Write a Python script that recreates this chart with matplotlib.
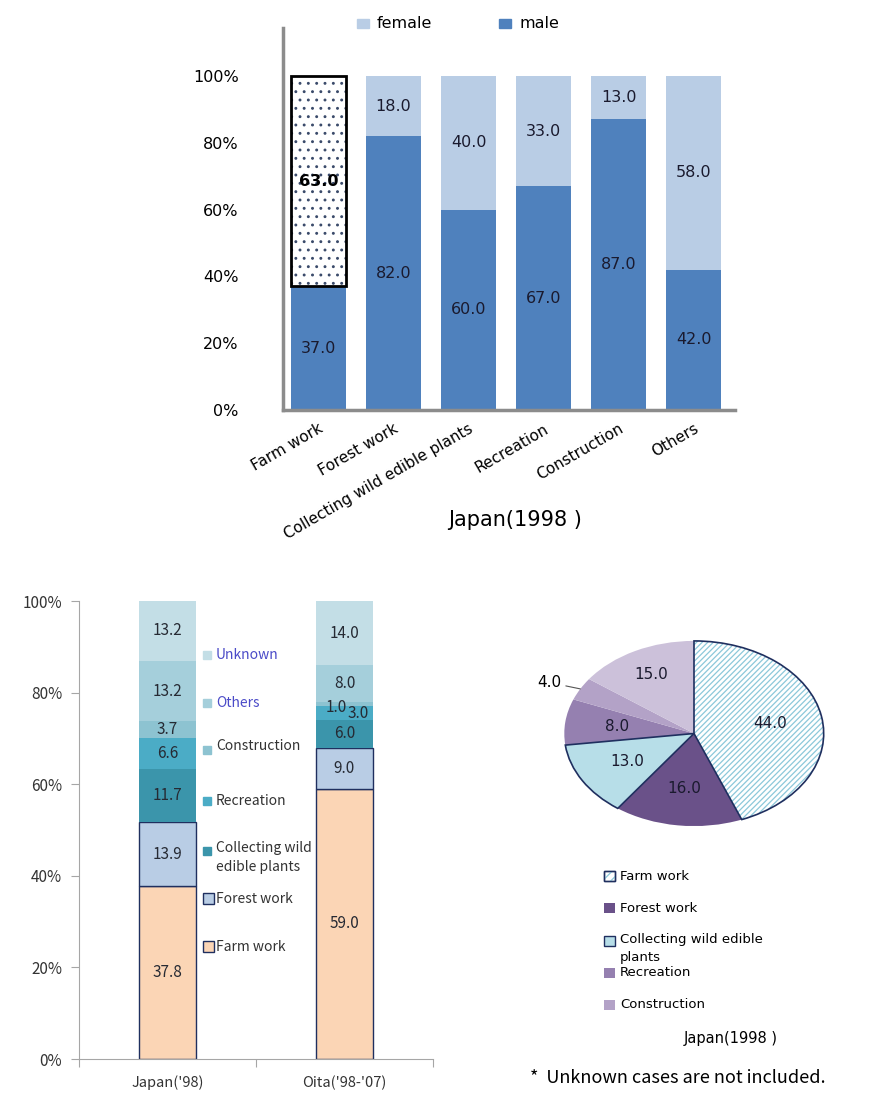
import numpy as np
import matplotlib
matplotlib.use("Agg")
import matplotlib.pyplot as plt
from matplotlib.patches import Rectangle, Wedge

# =========================
# data
# =========================

# top: gender share by activity, Japan 1998
activities = ["Farm work", "Forest work", "Collecting wild edible plants",
              "Recreation", "Construction", "Others"]
male = [37.0, 82.0, 60.0, 67.0, 87.0, 42.0]
female = [63.0, 18.0, 40.0, 33.0, 13.0, 58.0]

# bottom left: activity share, Japan vs Oita
regions = ["Japan('98)", "Oita('98-'07)"]
stack_cats = ["Farm work", "Forest work", "Collecting wild\nedible plants",
              "Recreation", "Construction", "Others", "Unknown"]
japan98 = [37.8, 13.9, 11.7, 6.6, 3.7, 13.2, 13.2]
oita = [59.0, 9.0, 6.0, 3.0, 1.0, 8.0, 14.0]

# bottom right: pie, Japan 1998
pie_cats = ["Farm work", "Forest work", "Collecting wild edible\nplants",
            "Recreation", "Construction", "Others"]
pie_vals = [44.0, 16.0, 13.0, 8.0, 4.0, 15.0]

# =========================
# style
# =========================
W, H = 888, 1116
MALE = "#4F81BD"
FEMALE = "#B9CDE5"
NAVY = "#1F2F5F"
STACK_COLORS = ["#FBD5B5", "#B9CDE5", "#3B95AB", "#4BACC6",
                "#8DC3D1", "#A5CFDB", "#C3DEE6"]
PIE_COLORS = ["white", "#6A5189", "#B7DEE8", "#9580B0", "#B3A2C7", "#CCC1DA"]
PIE_HATCH = "#8CC8DA"
GULIM = "DejaVu Sans"
MALGUN = ["Noto Sans CJK KR", "DejaVu Sans"]

plt.rcParams["hatch.linewidth"] = 0.9


def box(x0, y0, x1, y1):
    # pixel box -> figure fraction rect
    return [x0 / W, 1 - y1 / H, (x1 - x0) / W, (y1 - y0) / H]


fig = plt.figure(figsize=(W / 100, H / 100), dpi=100)

# =========================
# 1. top stacked 100% bar
# =========================
ax1 = fig.add_axes(box(283, 28, 735, 410))
x = np.arange(len(activities))
bw = 0.73
ax1.bar(x, male, bw, color=MALE, zorder=2)
fbars = ax1.bar(x, female, bw, bottom=male, color=FEMALE, zorder=2)
# farm work female: dotted fill with a heavy black frame
fbars[0].set_facecolor("white")
fbars[0].set_edgecolor("#3A4A6A")
fbars[0].set_linewidth(0)
fbars[0].set_hatch("..")
ax1.bar(x[:1], female[:1], bw, bottom=male[:1], fill=False, edgecolor="black",
        linewidth=2, zorder=3)

for i in range(len(activities)):
    ax1.text(i, male[i] / 2, f"{male[i]:.1f}", ha="center", va="center",
             fontsize=11.5, family=GULIM, color="#1A1A2E", zorder=4)
    ax1.text(i, male[i] + female[i] / 2, f"{female[i]:.1f}", ha="center",
             va="center", fontsize=11.5, family=GULIM,
             color="black" if i == 0 else "#1A1A2E",
             fontweight="bold" if i == 0 else "normal", zorder=4)

ax1.set_xlim(-0.473, 5.55)
ax1.set_ylim(0, 114.4)
ax1.set_yticks(np.arange(0, 101, 20))
ax1.set_yticklabels([f"{v}%" for v in range(0, 101, 20)], family=GULIM, fontsize=11.5)
ax1.set_xticks(x)
ax1.set_xticklabels(activities, rotation=30, ha="right", rotation_mode="anchor",
                    family=GULIM, fontsize=11)
ax1.tick_params(axis="y", length=0, pad=32)
ax1.tick_params(axis="x", length=0, pad=8)
for s in ["top", "right"]:
    ax1.spines[s].set_visible(False)
for s in ["left", "bottom"]:
    ax1.spines[s].set_color("#8C8C8C")
    ax1.spines[s].set_linewidth(2.5)

# =========================
# 2. bottom-left stacked bar
# =========================
ax2 = fig.add_axes(box(79, 601, 433, 1059))
pos = np.array([0.5, 1.5])
sw = 0.32
bottom = np.zeros(2)
# label nudges for the thin Oita bands (layout only)
nudge = {(1, 3): (0.076, 0.0), (1, 4): (-0.045, -0.8)}
for k, cat in enumerate(stack_cats):
    vals = np.array([japan98[k], oita[k]])
    edge = NAVY if k < 2 else "none"
    ax2.bar(pos, vals, sw, bottom=bottom, color=STACK_COLORS[k],
            edgecolor=edge, linewidth=1, zorder=2)
    for j in range(2):
        dx, dy = nudge.get((j, k), (0, 0))
        ax2.text(pos[j] + dx, bottom[j] + vals[j] / 2 + dy, f"{vals[j]:.1f}",
                 ha="center", va="center", fontsize=11, family=MALGUN, color="#262A33")
    bottom += vals

ax2.set_xlim(0, 2)
ax2.set_ylim(0, 100)
ax2.set_yticks(np.arange(0, 101, 20))
ax2.set_yticklabels([f"{v}%" for v in range(0, 101, 20)], family=MALGUN, fontsize=11,
                    color="#333333")
ax2.set_xticks([0, 1, 2])
ax2.set_xticklabels([])
ax2.set_xticks(pos, minor=True)
ax2.set_xticklabels(regions, minor=True, family=MALGUN, fontsize=10.5, color="#333333")
ax2.tick_params(axis="x", which="minor", length=0, pad=12)
ax2.tick_params(axis="both", which="major", length=6, color="#A6A6A6", direction="out")
ax2.tick_params(axis="y", pad=6)
for s in ["top", "right"]:
    ax2.spines[s].set_visible(False)
for s in ["left", "bottom"]:
    ax2.spines[s].set_color("#A6A6A6")

# =========================
# 3. pie (elliptical)
# =========================
ax3 = fig.add_axes(box(563, 640, 825, 827))
wedges, _ = ax3.pie(pie_vals, colors=PIE_COLORS, startangle=90, counterclock=False,
                    radius=1, wedgeprops=dict(linewidth=0, edgecolor="none"))
# farm work wedge: light blue diagonal hatch, navy outline on top
wedges[0].set_edgecolor(PIE_HATCH)
wedges[0].set_hatch("//////")
for i in (0, 2):
    w = wedges[i]
    ax3.add_patch(Wedge(w.center, w.r, w.theta1, w.theta2, fill=False,
                        edgecolor=NAVY, linewidth=1.2, zorder=3))
ax3.set_aspect("auto")
ax3.set_xlim(-1.01, 1.01)
ax3.set_ylim(-1.01, 1.01)
ax3.axis("off")

for i, w in enumerate(wedges):
    mid = np.deg2rad((w.theta1 + w.theta2) / 2)
    lab = f"{pie_vals[i]:.1f}"
    if i == 4:
        ax3.annotate(lab, xy=(np.cos(mid), np.sin(mid)), xytext=(-1.02, 0.55),
                     ha="right", va="center", fontsize=11, family=GULIM,
                     arrowprops=dict(arrowstyle="-", color="#555555", lw=0.8,
                                     shrinkA=1, shrinkB=0),
                     annotation_clip=False)
    else:
        r = 0.72 if i == 5 else 0.6
        ax3.text(r * np.cos(mid), r * np.sin(mid), lab, ha="center", va="center",
                 fontsize=11, family=GULIM, color="#1A1A2E", zorder=5)

# =========================
# overlay: legends and notes (pixel coords)
# =========================
ov = fig.add_axes([0, 0, 1, 1])
ov.set_xlim(0, W)
ov.set_ylim(H, 0)
ov.axis("off")

# top legend
for lx, col, lab in [(357, FEMALE, "female"), (499, MALE, "male")]:
    ov.add_patch(Rectangle((lx, 19), 12, 9, color=col))
    ov.text(lx + 20, 23.5, lab, va="center", ha="left", fontsize=11.5, family=GULIM)

ov.text(515, 520, "Japan(1998 )", ha="center", va="center", fontsize=15, family=GULIM)

# bottom-left legend
legend_y = [947, 899, 851, 801, 746, 703, 655]
legend_tc = ["#333333"] * 5 + ["#4B4BC8", "#4B4BC8"]
for k, cat in enumerate(stack_cats):
    yy = legend_y[k]
    if k < 2:
        ov.add_patch(Rectangle((203, yy - 6), 11, 11, facecolor=STACK_COLORS[k],
                               edgecolor=NAVY, lw=1))
    else:
        dy = 4 if k == 4 else 0
        ov.add_patch(Rectangle((203, yy - 4 + dy), 8, 8, color=STACK_COLORS[k]))
    if k == 2:
        ov.text(216, yy - 10, cat, va="top", ha="left", fontsize=10, family=MALGUN,
                color=legend_tc[k], linespacing=1.5)
    else:
        ov.text(216, yy, cat, va="center", ha="left", fontsize=10, family=MALGUN,
                color=legend_tc[k])

# pie legend
pie_leg_y = [876, 908, 941, 973, 1005]
for i in range(5):
    yy = pie_leg_y[i]
    r = Rectangle((604, yy - 5), 11, 10, facecolor=PIE_COLORS[i],
                  edgecolor=NAVY if i in (0, 2) else "none", lw=1)
    ov.add_patch(r)
    if i == 0:
        ov.add_patch(Rectangle((604, yy - 5), 11, 10, fill=False, hatch="////",
                               edgecolor=PIE_HATCH, lw=0))
        ov.add_patch(Rectangle((604, yy - 5), 11, 10, fill=False,
                               edgecolor=NAVY, lw=1))
    if i == 2:
        ov.text(620, yy - 8, pie_cats[i], va="top", ha="left", fontsize=9.5,
                family=GULIM, linespacing=1.55)
    else:
        ov.text(620, yy, pie_cats[i], va="center", ha="left", fontsize=9.5,
                family=GULIM)

ov.text(731, 1039, "Japan(1998 )", ha="center", va="center", fontsize=10.5, family=GULIM)
ov.text(530, 1078, "*  Unknown cases are not included.", ha="left", va="center",
        fontsize=13, family=MALGUN)

fig.savefig("out.png", dpi=100)
